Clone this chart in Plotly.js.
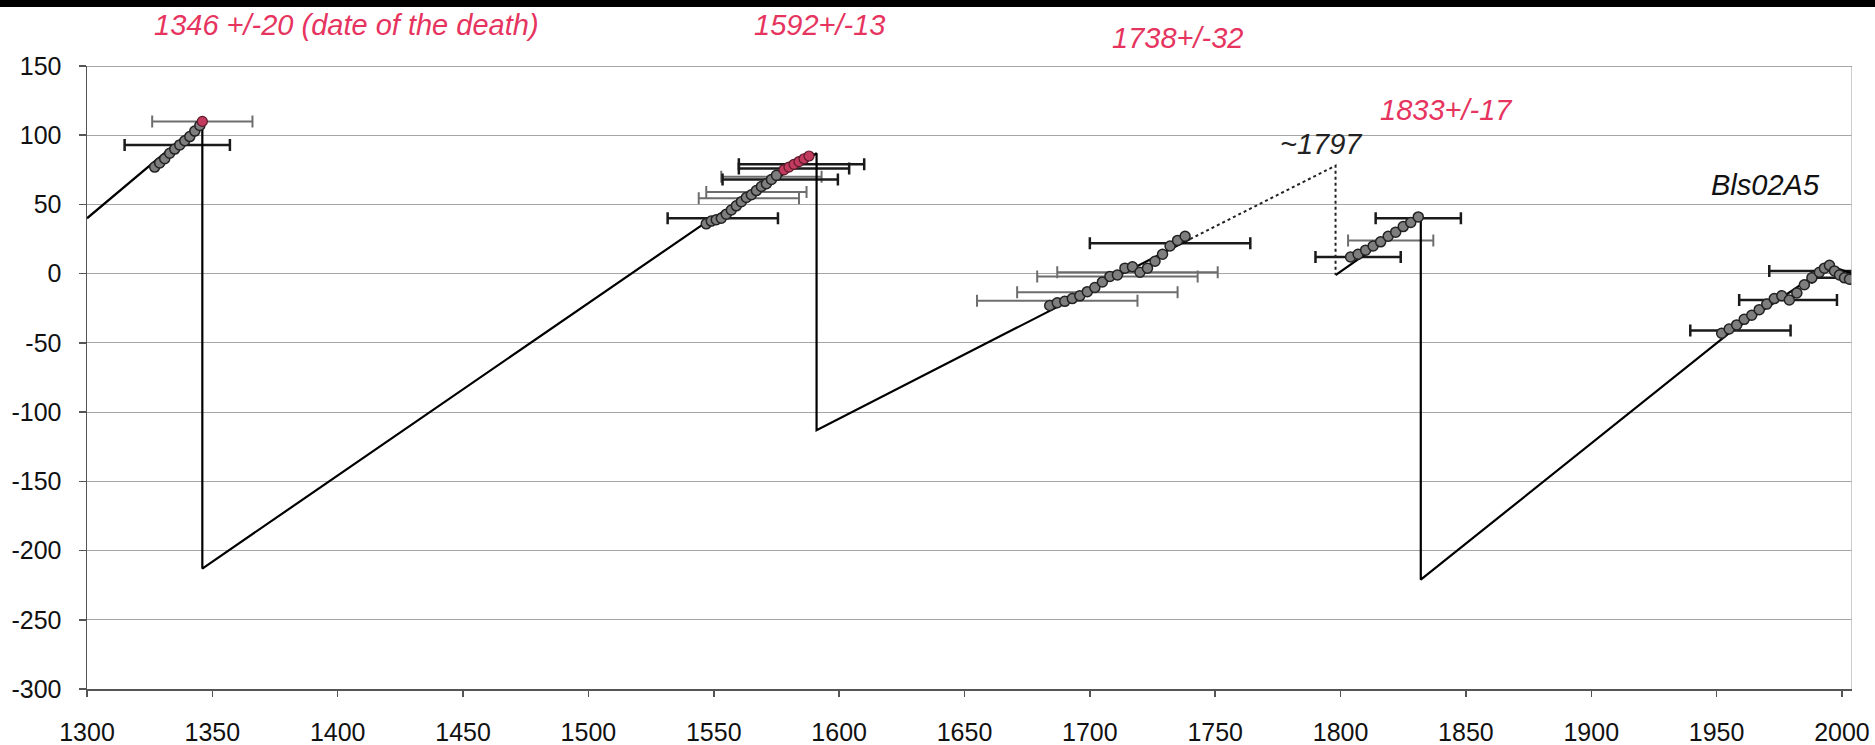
<!DOCTYPE html>
<html>
<head>
<meta charset="utf-8">
<script src="https://cdn.plot.ly/plotly-3.0.1.min.js"></script>
<style>html,body{margin:0;padding:0;background:#fff;}#chart{width:1875px;height:745px;}</style>
</head>
<body>
<div id="chart"></div>
<script>
// ---- Data ----
var xTicks = [1300,1350,1400,1450,1500,1550,1600,1650,1700,1750,1800,1850,1900,1950,2000];
var yTicks = [-300,-250,-200,-150,-100,-50,0,50,100,150];

// age-model line (solid parts, null = gap)
var modelX = [1300,1346,1346,1546,1591,1591,1740,null,1798,1832,1832,1955,1995,2004];
var modelY = [40,110,-213,36,87,-113,25,null,-1,42,-221,-43,6,0];
// dotted extrapolation to ~1797
var dotX = [1740,1798,1798];
var dotY = [25,78,-1];

// measured points
var grayX = [1327,1329,1331,1333,1335,1337,1339,1341,1343,1345,
             1547,1549,1551,1553,1555,1557,1559,1561,1563,1565,1567,1569,1571,1573,1575,
             1684,1687,1690,1693,1696,1699,1702,1705,1708,1711,1714,1717,1720,1723,1726,1729,1732,1735,1738,
             1804,1807,1810,1813,1816,1819,1822,1825,1828,1831,
             1952,1955,1958,1961,1964,1967,1970,1973,1976,1979,1982,1985,1988,1991,1993,1995,1997,1999,2001,2003];
var grayY = [77,80,83,87,90,93,96,99,103,107,
             36,38,39,40,43,46,49,52,55,57,60,63,65,68,71,
             -23,-21,-20,-18,-16,-13,-10,-6,-2,-1,4,5,1,4,9,14,20,24,27,
             12,14,17,20,23,27,30,34,37,41,
             -43,-40,-37,-33,-30,-26,-22,-18,-16,-19,-14,-8,-3,1,4,6,2,-1,-3,-4];
var redX = [1346,1578,1580,1582,1584,1586,1588];
var redY = [110,75,77,79,81,83,85];

// horizontal date uncertainties (centre, level, half-width)
var barBlackX = [1336,1585,1582,1576.5,1553.6,1732,1831,1807,1990,1997,1978.5,1959.5];
var barBlackY = [93,79,76,68,40,22,40,12,2,-3,-19,-41];
var barBlackE = [21,25,22,23,22,32,17,17,19,9,19.5,20];
var barGrayX = [1346,1573,1567,1564,1719,1711,1703,1687,1820];
var barGrayY = [110,70,59,54.5,1,-2,-13.5,-19.5,24];
var barGrayE = [20,20,20,20,32,32,32,32,17];

// ---- Traces ----
var FONT = 'Liberation Sans, Arial, Helvetica, sans-serif';
var traces = [
  {x: barGrayX, y: barGrayY, type:'scatter', mode:'markers', marker:{size:1, color:'rgba(0,0,0,0)'},
   error_x:{type:'data', array: barGrayE, visible:true, color:'#6e6e6e', thickness:2, width:6}, hoverinfo:'skip'},
  {x: barBlackX, y: barBlackY, type:'scatter', mode:'markers', marker:{size:1, color:'rgba(0,0,0,0)'},
   error_x:{type:'data', array: barBlackE, visible:true, color:'#1a1a1a', thickness:2.5, width:6}, hoverinfo:'skip'},
  {x: modelX, y: modelY, type:'scatter', mode:'lines', line:{color:'#000', width:2.2}, connectgaps:false},
  {x: dotX, y: dotY, type:'scatter', mode:'lines', line:{color:'#222', width:2, dash:'dot'}},
  {x: grayX, y: grayY, type:'scatter', mode:'markers',
   marker:{size:10, color:'#7e7e7e', line:{color:'#222', width:1.5}}},
  {x: redX, y: redY, type:'scatter', mode:'markers',
   marker:{size:10, color:'#c23a5e', line:{color:'#5a1a2a', width:1.2}}}
];

var redC = '#e6345f';
var layout = {
  width:1875, height:745,
  margin:{l:87, r:23, t:66, b:56},
  paper_bgcolor:'#fff', plot_bgcolor:'#fff',
  showlegend:false,
  font:{family:FONT, color:'#111'},
  xaxis:{range:[1300,2004], tickvals:xTicks, ticktext:xTicks.map(String),
         showgrid:false, zeroline:false, showline:true, linecolor:'#555', linewidth:1.5,
         ticks:'outside', ticklen:6, tickcolor:'#555', tickwidth:1.5,
         tickfont:{family:FONT, size:25, color:'#111'}, ticklabelstandoff:14},
  yaxis:{range:[-300,150], tickvals:yTicks, ticktext:yTicks.map(String),
         showgrid:true, gridcolor:'#a6a6a6', gridwidth:1, zeroline:false,
         showline:true, linecolor:'#555', linewidth:1.5,
         ticks:'outside', ticklen:7, tickcolor:'#555', tickwidth:1.5,
         tickfont:{family:FONT, size:25, color:'#111'}, ticklabelstandoff:12},
  shapes:[
    {type:'line', xref:'x', yref:'y', x0:2004, x1:2004, y0:-300, y1:150, line:{color:'#bdbdbd', width:1.5}},
    {type:'line', xref:'x', yref:'y', x0:1300, x1:2004, y0:150, y1:150, line:{color:'#8a8a8a', width:1.5}},
    {type:'rect', xref:'paper', yref:'paper', x0:-0.1, x1:1.1, y0:1.0947, y1:1.13, fillcolor:'#000', line:{width:0}}
  ],
  annotations:[
    {xref:'paper', yref:'paper', x:0.0368, y:1.0658, text:'<i>1346 +/-20 (date of the death)</i>', showarrow:false,
     xanchor:'left', yanchor:'middle', font:{family:FONT, size:29, color:redC}},
    {xref:'paper', yref:'paper', x:0.3768, y:1.0658, text:'<i>1592+/-13</i>', showarrow:false,
     xanchor:'left', yanchor:'middle', font:{family:FONT, size:29, color:redC}},
    {xref:'paper', yref:'paper', x:0.5796, y:1.0449, text:'<i>1738+/-32</i>', showarrow:false,
     xanchor:'left', yanchor:'middle', font:{family:FONT, size:29, color:redC}},
    {xref:'x', yref:'y', x:1815, y:118, text:'<i>1833+/-17</i>', showarrow:false,
     xanchor:'left', yanchor:'middle', font:{family:FONT, size:29, color:redC}},
    {xref:'x', yref:'y', x:1775, y:94, text:'<i>~1797</i>', showarrow:false,
     xanchor:'left', yanchor:'middle', font:{family:FONT, size:29, color:'#222'}},
    {xref:'x', yref:'y', x:1947, y:64, text:'<i>Bls02A5</i>', showarrow:false,
     xanchor:'left', yanchor:'middle', font:{family:FONT, size:29, color:'#111'}}
  ]
};

Plotly.newPlot('chart', traces, layout, {staticPlot:true, displayModeBar:false});
</script>
</body>
</html>
